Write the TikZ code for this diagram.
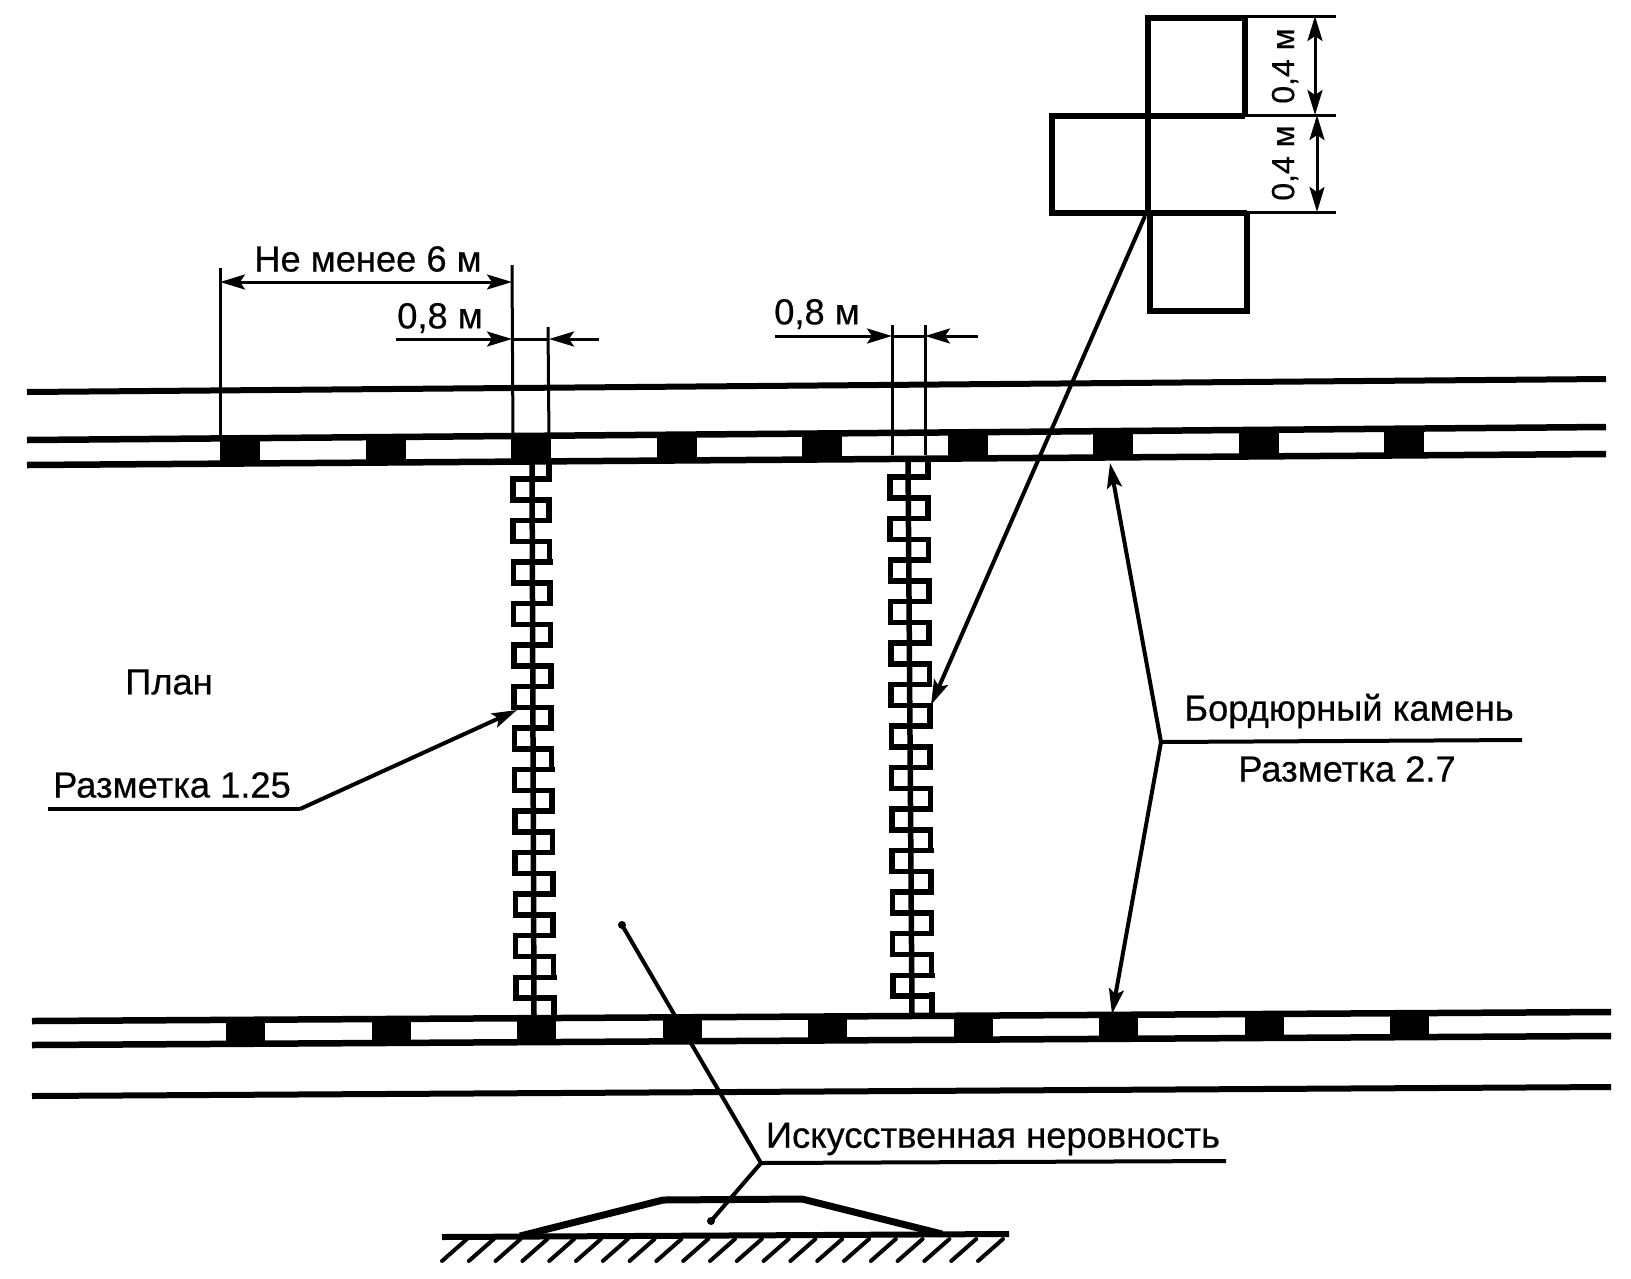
\documentclass[tikz,border=0pt]{standalone}
\usepackage{fontspec}
\setmainfont{Liberation Sans}
\newfontfamily\labfont{Liberation Sans}[FakeBold=0.5]
\usetikzlibrary{arrows.meta}
\newcommand{\keychain}[5]{%
    \foreach \k in {0,...,25} {
        \pgfmathsetmacro{\ya}{#5+20.76*\k}
        \pgfmathsetmacro{\yb}{\ya+20.76}
        \pgfmathsetmacro{\xl}{#1+(#3-#1)*\k/25}
        \pgfmathsetmacro{\xr}{#2+(#4-#2)*\k/25}
        \draw[link] (\xl,\ya) -- (\xr,\ya);
        \ifnum\k<25
            \ifodd\k
                \draw[link] (\xr,\ya) -- (\xr,\yb);
            \else
                \draw[link] (\xl,\ya) -- (\xl,\yb);
            \fi
        \fi
    }
}
\begin{document}
\begin{tikzpicture}[x=1pt,y=-1pt,
    road/.style={line width=6pt},
    band/.style={line width=6.5pt},
    thinline/.style={line width=3pt},
    leader/.style={line width=4pt},
    link/.style={line width=5.5pt,line cap=rect},
    square/.style={line width=6.5pt,line join=miter},
    dim/.style={line width=3pt,-{Stealth[length=25pt,width=15pt,inset=5pt]}},
    dimboth/.style={line width=3pt,{Stealth[length=25pt,width=15pt,inset=5pt]}-{Stealth[length=25pt,width=15pt,inset=5pt]}},
    lab/.style={inner sep=0pt,font=\labfont\fontsize{36.3}{40}\selectfont},
    sidelab/.style={inner sep=0pt,rotate=90,font=\labfont\fontsize{32}{36}\selectfont}
]
\useasboundingbox (0,0) rectangle (1631,1278);

% roads
\draw[road] (27,392) -- (1606,379);
\draw[band] (27,440) -- (1606,427);
\draw[band] (27,465) -- (1606,454);
\draw[band] (32,1021) -- (1611,1012);
\draw[band] (32,1045) -- (1611,1036);
\draw[road] (32,1096) -- (1611,1087);
\foreach \i in {0,...,8} {
    \pgfmathsetmacro{\xa}{220+145.5*\i}
    \pgfmathsetmacro{\ya}{440-0.0082*(\xa-27)}
    \pgfmathsetmacro{\yb}{465-0.007*(\xa-27)}
    \fill (\xa,\ya) rectangle ++(40,\yb-\ya);
    \pgfmathsetmacro{\xb}{226+145.5*\i}
    \pgfmathsetmacro{\yc}{1021-0.0057*(\xb-31)}
    \fill (\xb,\yc) rectangle ++(39,24);
}

% markings 1.25
\draw[link] (532,462) -- (534,1016);
\draw[link] (549,462) -- (549,479);
\draw[link] (554,998) -- (554,1016);
\keychain{513}{549}{516}{554}{479}
\draw[link] (908,459) -- (912,1014);
\draw[link] (928,459) -- (928,477);
\draw[link] (932,995) -- (932,1014);
\keychain{890}{928}{893}{932}{477}

% cross of squares
\draw[square] (1148,213) -- (1148,18) -- (1245,18) -- (1245,116);
\draw[square] (1245,116) -- (1052,116) -- (1052,213) -- (1247,213);
\draw[square] (1150,213) -- (1150,311) -- (1247,311) -- (1247,213);
\draw[thinline] (1245,16) -- (1336,16);
\draw[thinline] (1245,115) -- (1336,115);
\draw[thinline] (1247,212) -- (1336,212);
\draw[dimboth] (1315,16) -- (1315,115);
\draw[dimboth] (1317,115) -- (1317,212);
\node[sidelab] (hupper) at (1285,66) {0,4 м};
\node[sidelab] (hlower) at (1285,163) {0,4 м};

% dimensions
\coordinate (extA) at (220,268);
\coordinate (extB) at (512,265);
\coordinate (extC) at (548,327);
\coordinate (extD) at (892,325);
\coordinate (extE) at (925,325);
\draw[thinline] (extA) -- (220,435);
\draw[thinline] (extB) -- (513,440);
\draw[thinline] (extC) -- (549,440);
\draw[thinline] (extD) -- (892,455);
\draw[thinline] (extE) -- (925,455);
\draw[dimboth] (220,282) -- (512,282);
\node[lab] (notless) at (368,259) {Не менее 6 м};
\node[lab] (widthA) at (440,318) {0,8 м};
\node[lab] (widthB) at (817,314) {0,8 м};
\draw[dim] (396,339) -- (512,339);
\draw[dim] (599,339) -- (549,339);
\draw[thinline] (512,339) -- (549,339);
\draw[dim] (775,336) -- (892,336);
\draw[dim] (978,336) -- (925,336);
\draw[thinline] (892,336) -- (925,336);

% leaders
\coordinate (crossend) at (1145,216);
\coordinate (crosstip) at (931,705);
\draw[dim,leader] (crossend) -- (crosstip);
\node[lab] (plan) at (169,682) {План};
\node[lab] (mark125) at (172,785) {Разметка 1.25};
\coordinate (markleft) at (48,809);
\coordinate (markknee) at (300,809);
\coordinate (marktip) at (517,710);
\draw[leader] (markleft) -- (markknee);
\draw[dim,leader] (markknee) -- (marktip);
\node[lab] (curb) at (1349,711) {Бордюрный камень};
\node[lab] (mark27) at (1347,769) {Разметка 2.7};
\coordinate (curbknee) at (1161,742);
\coordinate (curbright) at (1522,740);
\coordinate (curbup) at (1110,463);
\coordinate (curbdown) at (1112,1014);
\draw[leader] (curbknee) -- (curbright);
\draw[dim,leader] (curbknee) -- (curbup);
\draw[dim,leader] (curbknee) -- (curbdown);
\node[lab] (bump) at (993,1139) {Искусственная неровность};
\coordinate (bumpknee) at (761,1163);
\coordinate (bumpright) at (1226,1161);
\coordinate (planpoint) at (622,925);
\coordinate (cutpoint) at (711,1221);
\draw[leader] (bumpknee) -- (bumpright);
\draw[leader] (planpoint) -- (bumpknee) -- (cutpoint);
\fill (planpoint) circle (4pt);
\fill (cutpoint) circle (4pt);

% cut through the hump
\draw[line width=6pt] (442,1237) -- (1009,1234);
\draw[line width=7pt,line join=miter] (520,1236) -- (663,1200) -- (802,1199) -- (942,1234);
\foreach \i in {0,...,20}
    \draw[line width=4pt,line cap=round] ({467+26.8*\i},1239) -- ++(-25,22);
\end{tikzpicture}
\end{document}
